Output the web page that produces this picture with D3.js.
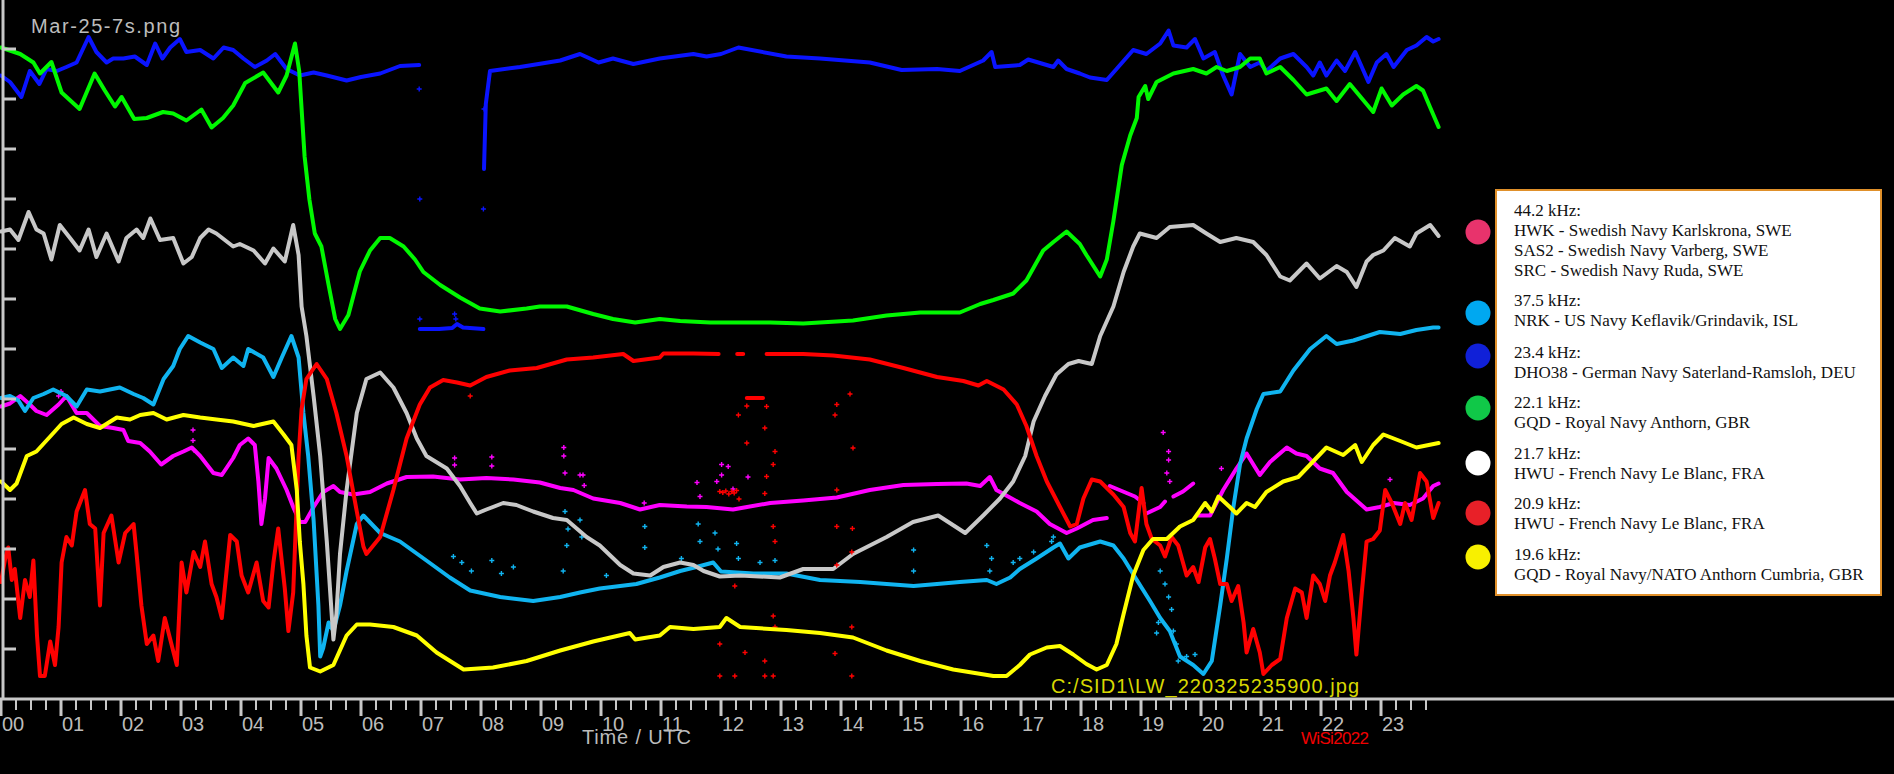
<!DOCTYPE html>
<html><head><meta charset="utf-8">
<script src="https://cdn.jsdelivr.net/npm/d3@7"></script>
<style>html,body{margin:0;padding:0;background:#000;overflow:hidden}svg{display:block}</style>
</head><body>
<svg id="chart" width="1894" height="774"></svg>
<script>
// ---- data: [hour UTC, relative signal level]; null = gap ----
const hourLabels = ["00","01","02","03","04","05","06","07","08","09","10","11","12","13","14","15","16","17","18","19","20","21","22","23"];
const yTickValues = [1,2,3,4,5,6,7,8,9,10,11,12,13];

const magenta442 = [[0,5.85],[0.15,5.91],[0.32,6.06],[0.48,5.89],[0.59,5.76],[0.76,5.68],[0.96,5.89],[1.09,6.06],[1.26,5.72],[1.43,5.72],[1.65,5.46],[1.87,5.42],[2.04,5.38],[2.12,5.16],[2.32,5.12],[2.48,4.95],[2.67,4.69],[2.87,4.86],[3.04,4.95],[3.18,5.03],[3.32,4.86],[3.54,4.52],[3.68,4.48],[3.87,4.82],[3.98,5.08],[4.12,5.21],[4.23,5.08],[4.29,4.35],[4.34,3.5],[4.4,4.01],[4.46,4.82],[4.59,4.61],[4.76,4.18],[4.87,3.84],[4.98,3.54],[5.07,3.54],[5.21,3.84],[5.37,4.14],[5.54,4.26],[5.65,4.14],[5.87,4.09],[6.15,4.14],[6.43,4.31],[6.76,4.44],[7.2,4.45],[7.65,4.39],[8.09,4.42],[8.54,4.39],[8.98,4.33],[9.32,4.22],[9.54,4.18],[9.87,4.01],[10.32,3.92],[10.65,3.79],[10.98,3.88],[11.43,3.85],[11.76,3.84],[12.2,3.79],[12.34,3.82],[12.82,3.92],[13.37,3.97],[13.93,4.03],[14.48,4.18],[15.04,4.28],[15.6,4.3],[16.09,4.31],[16.32,4.26],[16.48,4.44],[16.59,4.18],[16.98,3.92],[17.26,3.75],[17.48,3.5],[17.76,3.32],[17.93,3.41],[18.2,3.58],[18.43,3.62],null,[18.48,4.26],[18.7,4.15],[18.9,4.05],[19.04,3.92],null,[19.09,3.71],[19.32,3.84],[19.4,3.95],null,[19.54,4.05],[19.7,4.15],[19.87,4.31],null,[19.93,3.67],[20.15,3.67],[20.37,4.18],[20.59,4.61],[20.76,4.91],[20.98,4.48],[21.15,4.74],[21.43,5.03],[21.59,4.91],[21.76,4.86],[21.98,4.61],[22.2,4.52],[22.43,4.14],[22.76,3.79],[22.98,3.84],[23.21,3.92],[23.48,3.88],[23.7,4.01],[23.87,4.26],[23.96,4.31]];

const cyan375 = [[0,6.02],[0.15,6.06],[0.29,5.97],[0.4,5.76],[0.54,6.02],[0.71,6.1],[0.87,6.19],[1.09,6.06],[1.26,5.85],[1.43,6.19],[1.65,6.15],[1.98,6.23],[2.21,6.1],[2.37,6.02],[2.54,5.89],[2.71,6.4],[2.87,6.66],[2.98,7.0],[3.12,7.26],[3.32,7.13],[3.54,7.0],[3.68,6.62],[3.87,6.83],[4.04,6.66],[4.12,7.0],[4.37,6.83],[4.54,6.44],[4.68,6.83],[4.84,7.26],[4.96,6.83],[5.04,5.72],[5.12,4.86],[5.21,3.58],[5.29,1.87],[5.32,0.85],[5.37,1.02],[5.46,1.53],[5.54,1.36],[5.65,1.87],[5.76,2.56],[5.93,3.5],[6.04,3.67],[6.32,3.32],[6.65,3.15],[7.09,2.77],[7.48,2.43],[7.82,2.17],[8.32,2.04],[8.87,1.96],[9.32,2.04],[9.65,2.13],[9.98,2.21],[10.32,2.26],[10.59,2.3],[10.98,2.43],[11.32,2.56],[11.59,2.64],[11.87,2.73],[12.0,2.55],[12.54,2.51],[13.09,2.51],[13.65,2.38],[14.32,2.34],[14.76,2.3],[15.21,2.26],[15.6,2.3],[15.98,2.34],[16.43,2.38],[16.59,2.3],[16.82,2.43],[16.98,2.6],[17.26,2.81],[17.54,3.03],[17.65,3.11],[17.79,2.81],[17.98,3.03],[18.32,3.15],[18.54,3.07],[18.71,2.81],[18.93,2.38],[19.15,1.96],[19.32,1.62],[19.48,1.36],[19.65,0.85],[19.87,0.68],[20.04,0.5],[20.18,0.76],[20.32,1.87],[20.43,2.81],[20.54,3.84],[20.65,4.69],[20.76,5.21],[20.93,5.8],[21.04,6.1],[21.32,6.15],[21.54,6.57],[21.82,7.0],[22.09,7.26],[22.26,7.1],[22.54,7.17],[22.98,7.34],[23.32,7.3],[23.59,7.38],[23.87,7.43],[23.96,7.43]];

const blue234 = [[0,12.47],[0.15,12.34],[0.34,12.04],[0.48,12.56],[0.64,12.3],[0.76,12.6],[0.93,12.56],[1.09,12.64],[1.26,12.73],[1.46,13.24],[1.59,12.94],[1.76,12.73],[1.87,12.81],[2.04,12.81],[2.23,12.85],[2.43,12.68],[2.57,13.11],[2.69,12.81],[2.82,13.03],[2.98,13.2],[3.09,12.94],[3.32,12.98],[3.54,12.81],[3.71,13.03],[3.87,12.98],[4.04,12.81],[4.23,12.64],[4.43,12.77],[4.57,12.9],[4.76,12.6],[4.98,12.47],[5.21,12.53],[5.43,12.47],[5.76,12.37],[6.0,12.44],[6.32,12.51],[6.65,12.66],[6.97,12.68],null,[6.98,7.4],[7.3,7.4],[7.52,7.42],[7.6,7.5],[7.7,7.43],[8.04,7.4],null,[8.05,10.6],[8.08,11.9],[8.15,12.56],[8.65,12.64],[9.32,12.77],[9.65,12.9],[9.96,12.73],[10.2,12.81],[10.54,12.7],[10.98,12.81],[11.54,12.9],[11.76,12.85],[12.0,12.9],[12.29,13.03],[13.09,12.85],[13.65,12.81],[14.48,12.73],[15.01,12.58],[15.6,12.6],[15.98,12.56],[16.37,12.77],[16.51,12.94],[16.57,12.64],[16.98,12.68],[17.12,12.79],[17.54,12.64],[17.62,12.77],[17.76,12.6],[17.98,12.51],[18.15,12.43],[18.43,12.38],[18.65,12.68],[18.87,12.98],[19.09,12.9],[19.32,13.11],[19.46,13.37],[19.54,13.07],[19.76,13.03],[19.9,13.2],[20.04,12.81],[20.23,12.94],[20.37,12.47],[20.51,12.09],[20.65,12.9],[20.82,12.64],[20.98,12.73],[21.09,12.56],[21.32,12.81],[21.54,12.9],[21.76,12.64],[21.87,12.47],[21.98,12.73],[22.09,12.47],[22.26,12.77],[22.4,12.56],[22.57,12.94],[22.79,12.34],[22.93,12.73],[23.09,12.9],[23.21,12.64],[23.43,12.98],[23.59,13.07],[23.76,13.24],[23.87,13.15],[23.96,13.2]];

const green221 = [[0,13.03],[0.32,12.9],[0.54,12.73],[0.65,12.51],[0.84,12.74],[1.01,12.13],[1.31,11.8],[1.56,12.51],[1.73,12.17],[1.9,11.85],[2.01,12.04],[2.22,11.6],[2.43,11.62],[2.7,11.74],[2.87,11.71],[3.09,11.57],[3.34,11.79],[3.51,11.43],[3.7,11.62],[3.87,11.87],[4.07,12.32],[4.37,12.53],[4.62,12.13],[4.76,12.47],[4.9,13.11],[4.97,12.56],[5.06,10.85],[5.14,9.99],[5.23,9.31],[5.34,9.05],[5.46,8.28],[5.57,7.6],[5.65,7.4],[5.79,7.68],[5.98,8.55],[6.15,8.97],[6.32,9.22],[6.48,9.22],[6.71,9.05],[6.9,8.79],[7.04,8.54],[7.32,8.28],[7.65,8.03],[7.98,7.81],[8.32,7.75],[8.76,7.81],[8.98,7.85],[9.43,7.85],[9.87,7.7],[10.2,7.6],[10.57,7.53],[10.98,7.6],[11.32,7.56],[11.82,7.53],[12.82,7.53],[13.37,7.51],[14.2,7.57],[14.76,7.67],[15.32,7.73],[15.98,7.73],[16.32,7.9],[16.54,7.98],[16.87,8.11],[17.09,8.37],[17.37,8.97],[17.54,9.14],[17.76,9.35],[17.98,9.1],[18.09,8.88],[18.32,8.45],[18.43,8.79],[18.54,9.56],[18.68,10.68],[18.82,11.27],[18.93,11.62],[18.96,12.04],[19.07,12.26],[19.12,12.0],[19.26,12.34],[19.54,12.51],[19.87,12.6],[20.09,12.51],[20.26,12.64],[20.43,12.56],[20.65,12.64],[20.82,12.81],[20.98,12.81],[21.09,12.51],[21.32,12.64],[21.54,12.38],[21.76,12.09],[22.09,12.21],[22.26,11.96],[22.48,12.3],[22.87,11.74],[23.01,12.21],[23.18,11.87],[23.37,12.09],[23.59,12.26],[23.7,12.17],[23.82,11.83],[23.96,11.44]];

const white217 = [[0,9.35],[0.15,9.39],[0.29,9.18],[0.46,9.74],[0.59,9.39],[0.71,9.31],[0.84,8.79],[0.98,9.48],[1.15,9.22],[1.31,8.97],[1.46,9.39],[1.59,8.84],[1.76,9.31],[1.96,8.75],[2.09,9.22],[2.26,9.39],[2.37,9.22],[2.49,9.61],[2.65,9.18],[2.87,9.22],[3.04,8.71],[3.18,8.84],[3.32,9.22],[3.46,9.39],[3.59,9.31],[3.87,9.05],[3.98,9.1],[4.21,8.97],[4.4,8.71],[4.54,9.01],[4.73,8.75],[4.87,9.48],[4.96,8.88],[5.01,7.85],[5.09,7.26],[5.21,6.06],[5.32,4.86],[5.43,3.15],[5.54,1.19],[5.59,1.7],[5.65,2.9],[5.76,4.18],[5.93,5.72],[6.09,6.4],[6.32,6.53],[6.54,6.23],[6.76,5.72],[6.93,5.21],[7.09,4.86],[7.43,4.61],[7.65,4.26],[7.82,3.92],[7.93,3.71],[8.09,3.79],[8.37,3.92],[8.59,3.88],[8.87,3.75],[9.2,3.62],[9.43,3.58],[9.76,3.24],[9.98,3.07],[10.32,2.68],[10.54,2.51],[10.82,2.47],[11.04,2.64],[11.32,2.73],[11.54,2.68],[11.71,2.56],[11.98,2.45],[12.32,2.47],[12.98,2.43],[13.37,2.6],[13.87,2.6],[14.2,2.9],[14.76,3.24],[15.2,3.54],[15.62,3.67],[16.07,3.32],[16.37,3.67],[16.65,4.01],[16.87,4.35],[17.07,4.86],[17.21,5.55],[17.4,6.06],[17.59,6.49],[17.79,6.7],[17.96,6.76],[18.18,6.7],[18.32,7.26],[18.54,7.85],[18.71,8.54],[18.87,9.05],[18.98,9.31],[19.26,9.22],[19.48,9.44],[19.87,9.48],[20.09,9.31],[20.32,9.14],[20.59,9.22],[20.87,9.14],[21.09,8.88],[21.32,8.45],[21.48,8.37],[21.76,8.71],[21.98,8.41],[22.26,8.66],[22.43,8.54],[22.59,8.24],[22.76,8.75],[22.87,8.88],[23.04,8.97],[23.23,9.22],[23.48,9.05],[23.59,9.31],[23.82,9.48],[23.96,9.26]];

const red209 = [[0,2.34],[0.07,2.81],[0.12,3.03],[0.18,2.38],[0.23,2.6],[0.32,1.62],[0.4,2.38],[0.48,2.04],[0.54,2.77],[0.6,1.27],[0.65,0.46],[0.73,0.46],[0.82,1.15],[0.9,0.68],[0.96,1.44],[1.01,2.73],[1.09,3.24],[1.18,3.07],[1.26,3.75],[1.4,4.18],[1.48,3.5],[1.57,3.41],[1.65,1.87],[1.71,3.32],[1.84,3.67],[1.96,2.73],[2.07,3.32],[2.21,3.5],[2.26,2.9],[2.34,1.87],[2.43,1.1],[2.54,1.27],[2.62,0.76],[2.73,1.62],[2.84,1.1],[2.93,0.68],[3.01,2.73],[3.09,2.13],[3.21,2.94],[3.32,2.64],[3.4,3.15],[3.51,2.3],[3.59,2.04],[3.68,1.62],[3.82,3.28],[3.93,3.15],[4.01,2.47],[4.12,2.13],[4.26,2.73],[4.37,1.96],[4.46,1.83],[4.54,2.73],[4.62,3.41],[4.73,2.21],[4.79,1.36],[4.87,2.13],[4.96,4.86],[5.01,5.8],[5.09,6.4],[5.26,6.7],[5.43,6.4],[5.59,5.72],[5.76,4.86],[5.93,3.75],[6.04,3.05],[6.09,2.9],[6.32,3.24],[6.54,4.18],[6.76,5.21],[6.98,5.89],[7.15,6.23],[7.37,6.38],[7.6,6.33],[7.82,6.27],[8.09,6.44],[8.48,6.57],[8.93,6.62],[9.43,6.79],[9.87,6.83],[10.37,6.9],[10.54,6.76],[10.98,6.83],[11.04,6.91],[11.54,6.91],[11.96,6.9],null,[12.27,6.9],[12.37,6.9],null,[12.43,6.02],[12.7,6.02],null,[12.76,6.9],[13.37,6.9],[13.87,6.87],[14.48,6.79],[15.04,6.62],[15.6,6.44],[16.04,6.36],[16.29,6.27],[16.43,6.36],[16.71,6.19],[16.93,5.89],[17.09,5.46],[17.26,4.86],[17.43,4.35],[17.65,3.84],[17.82,3.45],[17.93,3.5],[18.04,4.01],[18.18,4.39],[18.32,4.35],[18.54,4.09],[18.71,3.84],[18.82,3.32],[18.9,3.15],[19.01,4.22],[19.09,3.5],[19.18,3.2],[19.32,3.07],[19.4,2.85],[19.51,3.24],[19.62,3.07],[19.76,2.47],[19.87,2.64],[19.96,2.34],[20.07,3.03],[20.15,3.2],[20.23,2.81],[20.32,2.3],[20.43,2.3],[20.51,1.96],[20.62,2.26],[20.71,1.53],[20.76,0.93],[20.87,1.4],[20.98,0.93],[21.04,0.5],[21.18,0.68],[21.32,0.8],[21.43,1.62],[21.57,2.21],[21.68,2.13],[21.76,1.62],[21.87,2.47],[21.98,2.3],[22.07,1.96],[22.15,2.47],[22.23,2.73],[22.37,3.28],[22.46,2.56],[22.54,1.62],[22.59,0.89],[22.68,2.13],[22.76,3.15],[22.87,3.2],[22.98,3.37],[23.07,4.18],[23.18,3.92],[23.32,3.5],[23.4,3.92],[23.51,3.58],[23.65,4.52],[23.76,4.35],[23.87,3.62],[23.96,3.92]];

const yellow196 = [[0,4.35],[0.15,4.18],[0.26,4.31],[0.43,4.86],[0.59,4.95],[0.82,5.25],[1.01,5.5],[1.21,5.63],[1.43,5.5],[1.65,5.42],[1.93,5.63],[2.15,5.59],[2.32,5.68],[2.54,5.72],[2.76,5.59],[3.04,5.68],[3.32,5.63],[3.59,5.59],[3.87,5.55],[4.21,5.46],[4.54,5.55],[4.71,5.29],[4.84,5.08],[4.93,4.18],[4.98,3.15],[5.04,2.3],[5.09,1.27],[5.15,0.63],[5.32,0.55],[5.54,0.68],[5.76,1.27],[5.93,1.49],[6.15,1.49],[6.54,1.44],[6.93,1.27],[7.26,0.93],[7.71,0.59],[8.2,0.63],[8.76,0.76],[9.32,0.97],[9.87,1.15],[10.48,1.32],[10.57,1.19],[10.98,1.27],[11.15,1.44],[11.54,1.4],[11.98,1.44],[12.09,1.62],[12.32,1.44],[13.09,1.38],[13.65,1.32],[14.2,1.23],[14.76,0.97],[15.32,0.76],[15.87,0.59],[16.54,0.46],[16.76,0.46],[16.98,0.68],[17.15,0.89],[17.43,1.03],[17.65,1.06],[17.87,0.89],[18.09,0.7],[18.26,0.59],[18.43,0.68],[18.59,1.1],[18.71,1.7],[18.87,2.47],[19.04,2.98],[19.2,3.2],[19.43,3.2],[19.65,3.45],[19.87,3.58],[20.07,3.92],[20.18,3.75],[20.29,4.05],[20.48,3.84],[20.59,3.71],[20.76,3.92],[20.9,3.84],[21.09,4.14],[21.37,4.35],[21.62,4.44],[21.82,4.69],[22.09,5.03],[22.37,4.88],[22.57,5.08],[22.68,4.74],[22.87,5.08],[23.04,5.29],[23.32,5.16],[23.59,5.03],[23.96,5.12]];

// isolated samples (spikes / outliers)
const cyanDots = [[7.54,2.85],[7.68,2.73],[7.84,2.56],[8.18,2.77],[8.34,2.51],[8.54,2.64],[9.37,2.56],[9.4,3.75],[9.43,3.07],[9.45,3.4],[9.65,3.58],[9.68,3.24],[10.09,2.47],[10.73,3.45],[10.73,3.03],[11.34,2.81],[11.62,3.5],[11.65,3.15],[11.9,3.32],[11.95,3.0],[12.26,3.11],[12.29,2.81],[12.65,2.73],[12.9,2.77],[15.21,2.98],[15.21,2.56],[16.43,3.07],[16.51,2.81],[16.48,2.56],[16.87,2.73],[16.98,2.81],[17.21,2.94],[17.51,3.15],[17.54,3.24],[19.32,2.56],[19.4,2.3],[19.46,2.04],[19.29,1.53],[19.26,1.32],[19.51,1.79],[19.54,1.36],[19.59,1.1],[19.62,0.76],[19.76,0.85],[19.9,0.89]];
const magentaDots = [[0.96,6.06],[1.0,6.15],[3.2,5.38],[3.2,5.17],[3.22,4.97],[7.56,4.82],[7.56,4.68],[8.18,4.84],[8.18,4.66],[9.38,5.03],[9.38,4.86],[9.4,4.52],[9.65,4.48],[9.7,4.48],[9.72,4.27],[10.72,3.92],[11.6,4.33],[11.65,4.05],[11.93,4.35],[12.01,4.69],[12.01,4.48],[12.12,4.65],[12.2,4.2],[12.45,4.44],[19.37,5.33],[19.46,4.95],[19.46,4.78],[19.43,4.52],[19.48,4.35],[20.34,4.61],[23.15,4.39]];
const redDots = [[7.82,6.06],[11.98,1.1],[11.98,0.46],[11.98,4.15],[12.03,4.13],[12.08,4.16],[12.13,4.1],[12.18,4.15],[12.22,4.12],[12.26,4.17],[12.3,4.0],[12.29,5.68],[12.43,5.12],[12.43,5.86],[12.73,5.42],[12.76,5.85],[12.87,4.69],[12.9,4.95],[12.76,4.45],[12.73,4.11],[12.87,3.45],[12.9,3.15],[13.93,5.89],[13.9,5.68],[14.15,6.1],[14.2,5.02],[13.93,4.18],[13.93,3.45],[14.19,3.41],[14.18,2.94],[13.93,2.68],[12.23,2.26],[12.4,0.93],[12.73,0.76],[12.23,0.46],[12.73,0.46],[12.87,0.46],[14.18,0.46],[13.9,0.91],[12.9,1.44],[12.87,1.66],[14.18,1.44]];
const blueDots = [[6.97,12.2],[6.98,10.0],[6.98,7.6],[8.04,9.8],[8.05,11.8],[7.56,7.7],[7.58,7.6]];

const series = [
  {data: magenta442, dots: magentaDots, color: "#ff00ff"},
  {data: cyan375, dots: cyanDots, color: "#10b4f0"},
  {data: blue234, dots: blueDots, color: "#0a14ff"},
  {data: green221, dots: [], color: "#00f800"},
  {data: white217, dots: [], color: "#c8c8c8"},
  {data: red209, dots: redDots, color: "#ff0000"},
  {data: yellow196, dots: [], color: "#ffff00"}
];

const legendGroups = [
  {color: "#e8336c", lines: ["44.2 kHz:", "HWK - Swedish Navy Karlskrona, SWE", "SAS2 - Swedish Navy Varberg, SWE", "SRC - Swedish Navy Ruda, SWE"]},
  {color: "#00a8f0", lines: ["37.5 kHz:", "NRK - US Navy Keflavik/Grindavik, ISL"]},
  {color: "#1020d8", lines: ["23.4 kHz:", "DHO38 - German Navy Saterland-Ramsloh, DEU"]},
  {color: "#10c848", lines: ["22.1 kHz:", "GQD - Royal Navy Anthorn, GBR"]},
  {color: "#ffffff", lines: ["21.7 kHz:", "HWU - French Navy Le Blanc, FRA"]},
  {color: "#e82028", lines: ["20.9 kHz:", "HWU - French Navy Le Blanc, FRA"]},
  {color: "#f8f000", lines: ["19.6 kHz:", "GQD - Royal Navy/NATO Anthorn Cumbria, GBR"]}
];

// ---- drawing ----
const svg = d3.select("#chart");
svg.append("rect").attr("width",1894).attr("height",774).attr("fill","#000");

const x = d3.scaleLinear().domain([0,24]).range([1,1441]);
const y = d3.scaleLinear().domain([0,14]).range([699,-1]);
const axisColor = "#c8c8c8";
const sans = "'Liberation Sans', Arial, sans-serif";

// series lines
const line = d3.line().defined(d => d !== null).x(d => x(d[0])).y(d => y(d[1]));
const plot = svg.append("g");
series.forEach(s => {
  plot.append("path").datum(s.data).attr("d", line)
    .attr("fill","none").attr("stroke", s.color).attr("stroke-width",4)
    .attr("stroke-linejoin","round").attr("stroke-linecap","round");
  plot.selectAll(null).data(s.dots).enter().append("path")
    .attr("d", d => { const px = x(d[0]), py = y(d[1]); return `M${px-2.5},${py}h5M${px},${py-2.5}v5`; })
    .attr("stroke", s.color).attr("stroke-width",1.4).attr("fill","none");
});

// y axis (unlabelled ticks)
svg.append("line").attr("x1",3).attr("x2",3).attr("y1",0).attr("y2",700)
  .attr("stroke",axisColor).attr("stroke-width",3);
svg.selectAll(null).data(yTickValues).enter().append("line")
  .attr("x1",3).attr("x2",16).attr("y1",d=>y(d)).attr("y2",d=>y(d))
  .attr("stroke",axisColor).attr("stroke-width",3);

// x axis
svg.append("line").attr("x1",0).attr("x2",1894).attr("y1",699).attr("y2",699)
  .attr("stroke",axisColor).attr("stroke-width",3);
const quarter = d3.range(0, 24, 0.25);
const isHour = d => Math.abs(d - Math.round(d)) < 1e-6;
svg.selectAll(null).data(quarter).enter().append("line")
  .attr("x1",d=>x(d)).attr("x2",d=>x(d)).attr("y1",699)
  .attr("y2",d=> isHour(d) ? 716 : 710)
  .attr("stroke",axisColor).attr("stroke-width",d=> isHour(d) ? 3 : 2);
svg.selectAll(null).data(hourLabels).enter().append("text")
  .attr("x",(d,i)=>x(i)+1).attr("y",731)
  .attr("font-family",sans).attr("font-size",20)
  .attr("fill","#bcbcbc").text(d=>d);

svg.append("text").attr("x",582).attr("y",744).attr("textLength",109)
  .attr("font-family",sans).attr("font-size",20)
  .attr("fill","#bcbcbc").text("Time / UTC");
svg.append("text").attr("x",1301).attr("y",744).attr("textLength",68)
  .attr("font-family",sans).attr("font-size",17)
  .attr("fill","#f00000").text("WiSi2022");
svg.append("text").attr("x",1051).attr("y",693).attr("textLength",308)
  .attr("font-family",sans).attr("font-size",20)
  .attr("fill","#d8d800").text("C:/SID1\\LW_220325235900.jpg");
svg.append("text").attr("x",31).attr("y",33).attr("textLength",149)
  .attr("font-family",sans).attr("font-size",20)
  .attr("fill","#bcbcbc").text("Mar-25-7s.png");

// legend
svg.append("rect").attr("x",1496).attr("y",190).attr("width",385).attr("height",405)
  .attr("fill","#ffffff").attr("stroke","#e0902a").attr("stroke-width",2);
const groupTops = [210, 300, 352, 402, 453, 503, 554];
const dotYs = [232, 313, 356, 408, 463, 513, 557];
const lg = svg.append("g");
legendGroups.forEach((g, gi) => {
  lg.append("circle").attr("cx",1478).attr("cy",dotYs[gi]).attr("r",12.5).attr("fill",g.color);
  g.lines.forEach((t, li) => {
    lg.append("text").attr("x",1514).attr("y",groupTops[gi] + li*20 + 6)
      .attr("font-family","'Liberation Serif', 'Times New Roman', serif").attr("font-size",17)
      .attr("fill","#111").text(t);
  });
});
</script>
</body></html>
